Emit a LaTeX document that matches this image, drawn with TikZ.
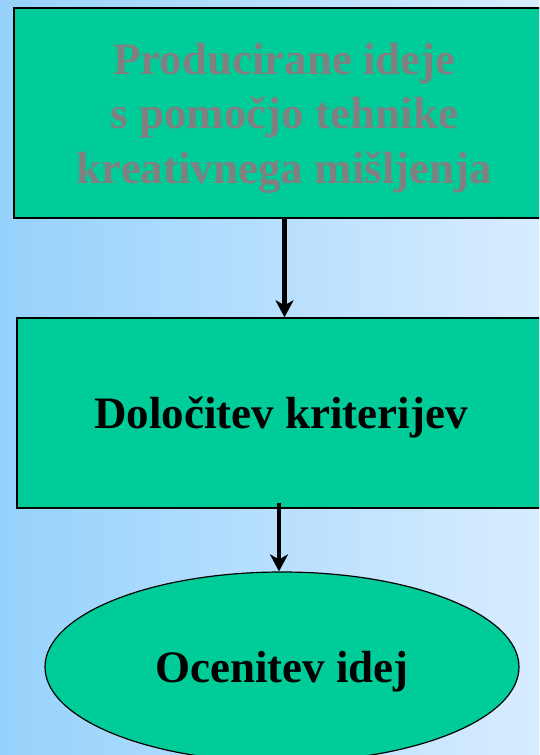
\documentclass[tikz,border=0pt]{standalone}
\usepackage{fontspec}
\setmainfont{Liberation Serif}
\usetikzlibrary{arrows.meta,shapes.geometric}
\definecolor{bgL}{RGB}{150,210,252}
\definecolor{bgR}{RGB}{216,236,255}
\definecolor{boxfill}{RGB}{0,204,153}
\definecolor{graytext}{RGB}{128,128,128}
\begin{document}
\begin{tikzpicture}[x=1pt,y=1pt,
  boxstyle/.style={draw=black,line width=1.4pt,fill=boxfill,rectangle,inner sep=0pt,
    font=\fontsize{45}{54.5}\selectfont\bfseries,align=center,text depth=0pt},
  ovalstyle/.style={draw=black,line width=1.2pt,fill=boxfill,ellipse,inner sep=0pt,
    font=\fontsize{45}{54.5}\selectfont\bfseries,text depth=0pt},
  arr/.style={line width=4.6pt,-{Stealth[length=17pt,width=18pt,inset=5pt]}}]
\useasboundingbox (0,0) rectangle (539,-755);
\clip (0,0) rectangle (539,-755);
\shade[left color=bgL,right color=bgR] (0,0) rectangle (539,-755);
\node[boxstyle,minimum width=541pt,minimum height=210pt,text=graytext] (b1) at (284.5,-113)
  {Producirane ideje\\ s pomočjo tehnike\\ kreativnega mišljenja};
\node[boxstyle,minimum width=528pt,minimum height=190pt] (b2) at (281,-413)
  {Določitev kriterijev};
\node[ovalstyle,minimum width=474pt,minimum height=190pt] (e) at (282,-667)
  {Ocenitev idej};
\draw[arr] (b1.south) -- (b1.south |- b2.north);
\draw[arr] ([xshift=-2pt,yshift=6pt]b2.south) -- ([xshift=-2pt]b2.south |- e.north);
\end{tikzpicture}
\end{document}
